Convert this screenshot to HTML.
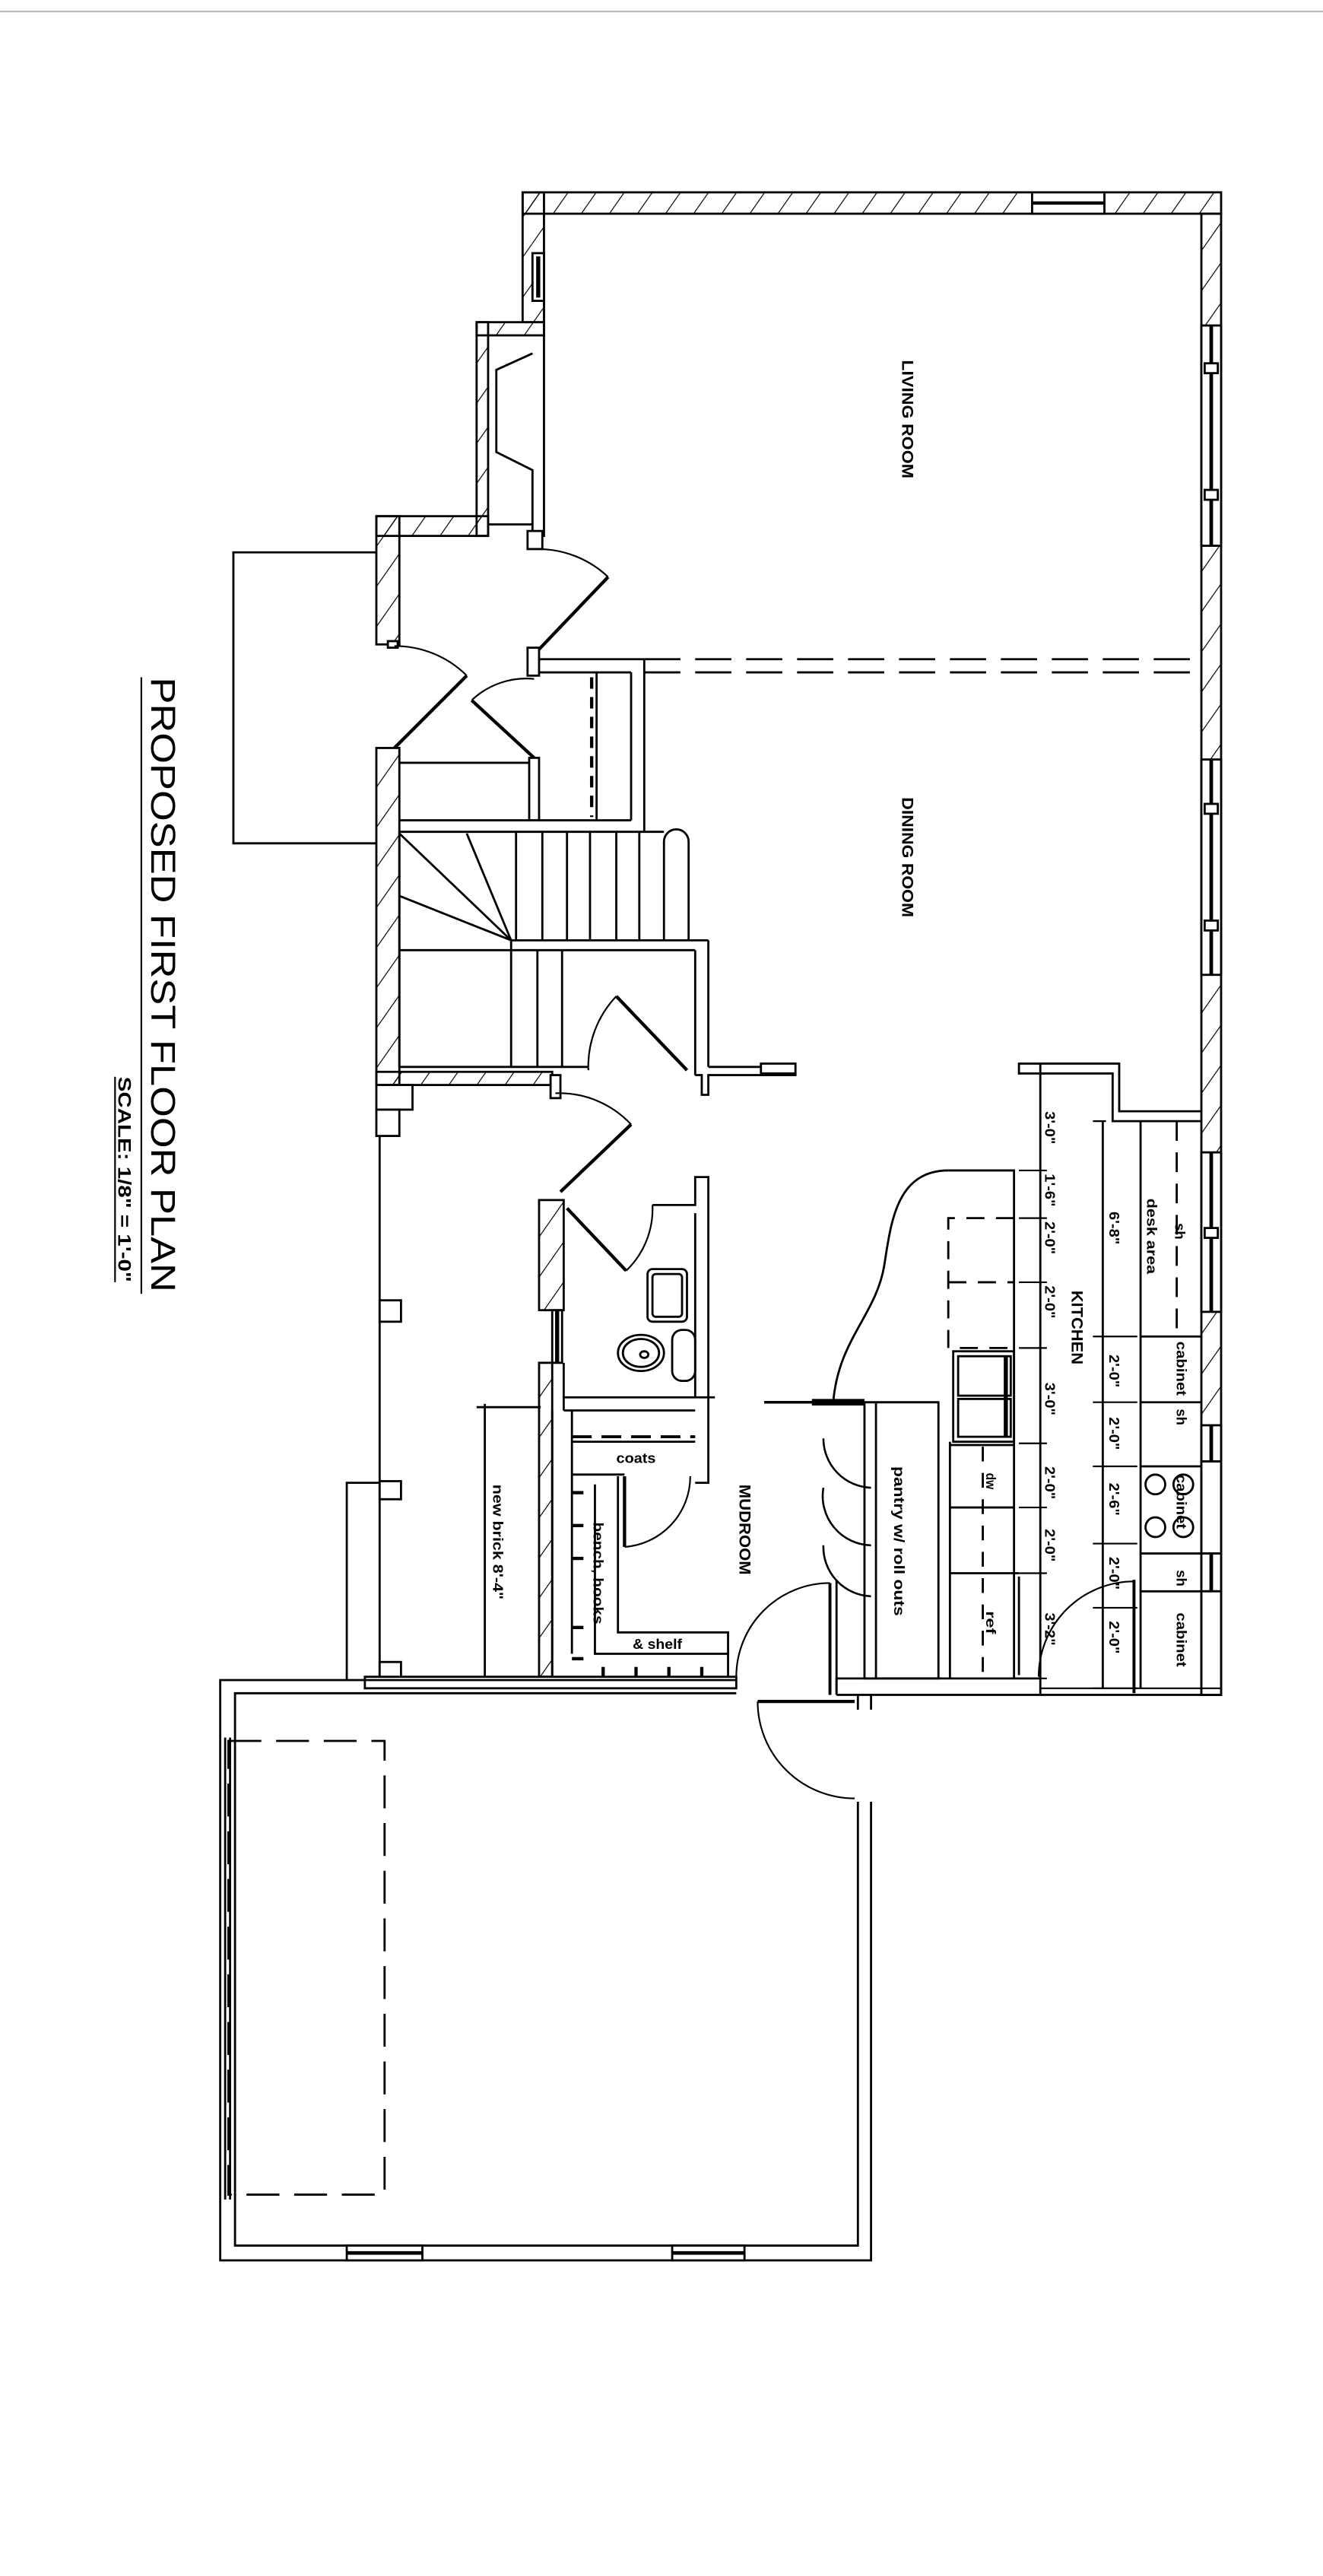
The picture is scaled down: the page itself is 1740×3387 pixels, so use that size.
<!DOCTYPE html>
<html><head><meta charset="utf-8"><style>
html,body{margin:0;padding:0;background:#fff}
svg{display:block}
text{font-family:"Liberation Sans",sans-serif;font-weight:bold;fill:#000}
</style></head><body>
<svg width="1740" height="3387" viewBox="0 0 805 1567" preserveAspectRatio="none" xmlns="http://www.w3.org/2000/svg">
<defs>
<pattern id="h" patternUnits="userSpaceOnUse" width="14" height="14" patternTransform="rotate(35)">
<line x1="0" y1="0" x2="0" y2="14" stroke="#000" stroke-width="1.1"/>
</pattern>
</defs>
<rect width="805" height="1567" fill="#fff"/>
<line x1="0" y1="7" x2="805" y2="7" stroke="#bbb" stroke-width="1"/>
<g stroke="#000" stroke-width="1.3" fill="none">
<!-- top wall -->
<rect x="318" y="117" width="425" height="13" fill="url(#h)"/>
<rect x="628" y="117" width="44" height="13" fill="#fff"/>
<line x1="628" y1="123.5" x2="672" y2="123.5" stroke-width="2"/>
<!-- right wall -->
<rect x="731" y="130" width="12" height="901" fill="url(#h)"/>
<rect x="731" y="198" width="12" height="134" fill="#fff"/><line x1="737" y1="198" x2="737" y2="332" stroke-width="2.2"/>
<rect x="733" y="221" width="8" height="6" fill="#fff"/><rect x="733" y="298" width="8" height="6" fill="#fff"/>
<rect x="731" y="462" width="12" height="131" fill="#fff"/><line x1="737" y1="462" x2="737" y2="593" stroke-width="2.2"/>
<rect x="733" y="489" width="8" height="6" fill="#fff"/><rect x="733" y="560" width="8" height="6" fill="#fff"/>
<rect x="731" y="701" width="12" height="97" fill="#fff"/><line x1="737" y1="701" x2="737" y2="798" stroke-width="2.2"/>
<rect x="733" y="747" width="8" height="6" fill="#fff"/>
<rect x="731" y="867" width="12" height="22" fill="#fff"/><line x1="737" y1="867" x2="737" y2="889" stroke-width="2.2"/>
<rect x="731" y="889" width="12" height="56" fill="#fff"/>
<rect x="731" y="945" width="12" height="23" fill="#fff"/><line x1="737" y1="945" x2="737" y2="968" stroke-width="2.2"/>
<rect x="731" y="968" width="12" height="63" fill="#fff"/>
<!-- living left wall & bay -->
<rect x="318" y="117" width="13" height="79" fill="url(#h)"/>
<rect x="324" y="154" width="7" height="29" fill="#fff"/><line x1="327.5" y1="156" x2="327.5" y2="181" stroke-width="2.5"/>
<rect x="290" y="196" width="7" height="130" fill="url(#h)"/>
<rect x="290" y="196" width="41" height="8" fill="url(#h)"/>
<polyline points="331,183 331,326 324,326 324,286 302,275 302,225 324,215"/>
<line x1="297" y1="319" x2="324" y2="319"/>
<rect x="229" y="314" width="68" height="12" fill="url(#h)"/>
<rect x="229" y="314" width="14" height="78" fill="url(#h)"/>
<rect x="321" y="323" width="9" height="11" fill="#fff"/>
<!-- porch -->
<polyline points="229,336 142,336 142,513 229,513"/>
<!-- entry doors -->
<rect x="236" y="390" width="6" height="4" fill="#fff"/>
<line x1="240" y1="455" x2="284" y2="411" stroke-width="2"/>
<path d="M240,393 A62,62 0 0 1 284,411" stroke-width="1"/>
<line x1="325" y1="461" x2="287" y2="426" stroke-width="2"/>
<path d="M325,413 A48,48 0 0 0 287,426" stroke-width="1"/>
<line x1="327" y1="396" x2="370" y2="351" stroke-width="2"/>
<path d="M327,334 A62,62 0 0 1 370,351" stroke-width="1"/>
<rect x="321" y="394" width="7" height="17" fill="#fff"/>
<!-- closet & divider -->
<line x1="328" y1="401" x2="392" y2="401"/>
<line x1="328" y1="409" x2="384" y2="409"/>
<line x1="384" y1="409" x2="384" y2="499"/><line x1="392" y1="401" x2="392" y2="506"/>
<line x1="363" y1="409" x2="363" y2="499"/>
<line x1="360" y1="412" x2="360" y2="497" stroke-dasharray="7,5" stroke-width="2"/>
<line x1="392" y1="401" x2="731" y2="401" stroke-dasharray="22,9"/>
<line x1="392" y1="409" x2="731" y2="409" stroke-dasharray="22,9"/>
<!-- hall -->
<rect x="229" y="455" width="14" height="205" fill="url(#h)"/>
<line x1="243" y1="464" x2="322" y2="464"/>
<rect x="322" y="461" width="6" height="38" fill="#fff"/>
<line x1="243" y1="499" x2="384" y2="499"/>
<!-- stairs -->
<polyline points="243,506 404,506"/>
<path d="M404,572 L404,512 A7.5,7.5 0 0 1 419,512 L419,572"/>
<line x1="314" y1="506" x2="314" y2="572"/><line x1="330" y1="506" x2="330" y2="572"/>
<line x1="345" y1="506" x2="345" y2="572"/><line x1="359" y1="506" x2="359" y2="572"/>
<line x1="375" y1="506" x2="375" y2="572"/><line x1="389" y1="506" x2="389" y2="572"/>
<line x1="311" y1="572" x2="431" y2="572"/>
<line x1="243" y1="578" x2="423" y2="578"/>
<line x1="311" y1="572" x2="243" y2="507"/><line x1="311" y1="572" x2="284" y2="507"/><line x1="311" y1="572" x2="243" y2="545"/>
<line x1="311" y1="572" x2="311" y2="649"/><line x1="327" y1="578" x2="327" y2="649"/><line x1="342" y1="578" x2="342" y2="649"/>
<line x1="243" y1="506" x2="243" y2="649"/>
<line x1="243" y1="649" x2="358" y2="649"/>
<line x1="423" y1="578" x2="423" y2="654"/><line x1="431" y1="572" x2="431" y2="649"/>
<polyline points="423,654 427,654 427,666 431,666 431,654 484,654 484,649 431,649"/>
<line x1="418" y1="651" x2="375" y2="606" stroke-width="2"/>
<path d="M375,606 A62,62 0 0 0 358,651" stroke-width="1"/>
<rect x="229" y="652" width="107" height="8" fill="url(#h)"/>
<rect x="335" y="654" width="6" height="14" fill="#fff"/>
<rect x="229" y="660" width="22" height="15" fill="#fff"/><rect x="229" y="675" width="14" height="16" fill="#fff"/>
<!-- dining -> hall door -->
<line x1="341" y1="725" x2="384" y2="684" stroke-width="2"/>
<path d="M338,665 A60,60 0 0 1 384,684" stroke-width="1"/>
<!-- left exterior line -->
<line x1="231" y1="691" x2="231" y2="1022"/>
<rect x="231" y="791" width="13" height="13" fill="#fff"/>
<rect x="231" y="901" width="13" height="11" fill="#fff"/>
<rect x="231" y="1011" width="13" height="11" fill="#fff"/>
<polyline points="231,902 211,902 211,1022"/>
<!-- bath -->
<rect x="328" y="730" width="15" height="67" fill="url(#h)"/>
<rect x="336" y="797" width="6" height="32" fill="#fff"/><line x1="339" y1="797" x2="339" y2="829" stroke-width="2.5"/>
<rect x="328" y="829" width="8" height="191" fill="url(#h)"/>
<line x1="343" y1="829" x2="343" y2="858"/>
<line x1="345" y1="735" x2="381" y2="773" stroke-width="2"/>
<path d="M381,773 A52,52 0 0 0 397,733" stroke-width="1"/>
<polyline points="397,733 423,733 423,716 431,716 431,902 423,902"/>
<line x1="423" y1="738" x2="423" y2="850"/>
<rect x="394" y="772" width="24" height="32" rx="3"/>
<rect x="397" y="775" width="18" height="26" rx="2"/>
<ellipse cx="390" cy="823" rx="14" ry="11"/><ellipse cx="390" cy="823" rx="11" ry="8.5"/>
<ellipse cx="392" cy="824" rx="2.5" ry="2"/>
<rect x="409" y="809" width="14" height="31" rx="6"/>
<line x1="343" y1="850" x2="435" y2="850"/><line x1="343" y1="858" x2="423" y2="858"/>
<!-- coats closet -->
<line x1="348" y1="858" x2="348" y2="1006"/><line x1="336" y1="858" x2="336" y2="1020"/>
<line x1="348" y1="874" x2="423" y2="874" stroke-dasharray="12,6" stroke-width="1.8"/>
<line x1="348" y1="877" x2="423" y2="877"/>
<line x1="348" y1="897" x2="380" y2="897"/>
<line x1="380" y1="898" x2="380" y2="941" stroke-width="2"/>
<path d="M380,941 A43,43 0 0 0 420,898" stroke-width="1"/>
<!-- bench -->
<polyline points="376,898 376,993 443,993 443,1020"/>
<polyline points="362,903 362,1006 443,1006"/>
<g stroke-width="2">
<line x1="348" y1="908" x2="355" y2="908"/><line x1="348" y1="928" x2="355" y2="928"/><line x1="348" y1="948" x2="355" y2="948"/>
<line x1="348" y1="990" x2="355" y2="990"/><line x1="348" y1="1009" x2="355" y2="1009"/>
<line x1="367" y1="1014" x2="367" y2="1020"/><line x1="387" y1="1014" x2="387" y2="1020"/>
<line x1="407" y1="1014" x2="407" y2="1020"/><line x1="427" y1="1014" x2="427" y2="1020"/>
</g>
<!-- new brick dimension -->
<line x1="295" y1="854" x2="295" y2="1025"/><line x1="290" y1="856" x2="329" y2="856"/>
<!-- mudroom bottom wall -->
<rect x="222" y="1020" width="226" height="7" fill="#fff"/>
<path d="M448,1020 A57,57 0 0 1 505,963" stroke-width="1"/>
<line x1="505" y1="963" x2="505" y2="1031" stroke-width="1.8"/><line x1="509" y1="961" x2="509" y2="1031"/>
<!-- garage -->
<polyline points="448,1022 134,1022 134,1375 530,1375 530,1096"/>
<polyline points="448,1030 143,1030 143,1366 522,1366 522,1096"/>
<line x1="522" y1="1031" x2="522" y2="1040"/><line x1="530" y1="1031" x2="530" y2="1040"/>
<line x1="137" y1="1057" x2="137" y2="1338"/><line x1="140" y1="1057" x2="140" y2="1338"/>
<rect x="139" y="1059" width="95" height="276" stroke-dasharray="20,9"/>
<rect x="211" y="1366" width="46" height="9" fill="#fff"/><line x1="211" y1="1370.5" x2="257" y2="1370.5" stroke-width="2.2"/>
<rect x="409" y="1366" width="44" height="9" fill="#fff"/><line x1="409" y1="1370.5" x2="453" y2="1370.5" stroke-width="2.2"/>
<line x1="461" y1="1035" x2="520" y2="1035" stroke-width="2"/>
<path d="M461,1035 A59,59 0 0 0 520,1094" stroke-width="1"/>
<!-- kitchen walls -->
<rect x="463" y="647" width="21" height="6" fill="#fff"/>
<rect x="620" y="647" width="13" height="6" fill="#fff"/>
<polyline points="633,647 681,647 681,676 731,676"/>
<polyline points="633,653 677,653 677,682 731,682"/>
<line x1="633" y1="653" x2="633" y2="1031"/>
<line x1="671" y1="682" x2="671" y2="1027"/>
<line x1="694" y1="682" x2="694" y2="1027"/>
<line x1="716" y1="682" x2="716" y2="813" stroke-dasharray="12,7"/>
<line x1="694" y1="813" x2="731" y2="813"/><line x1="694" y1="853" x2="731" y2="853"/>
<line x1="694" y1="892" x2="731" y2="892"/><line x1="694" y1="945" x2="731" y2="945"/>
<line x1="694" y1="968" x2="731" y2="968"/>
<g stroke-width="1">
<line x1="620" y1="712" x2="637" y2="712"/><line x1="620" y1="741" x2="637" y2="741"/>
<line x1="620" y1="780" x2="637" y2="780"/><line x1="620" y1="820" x2="637" y2="820"/>
<line x1="620" y1="878" x2="637" y2="878"/><line x1="620" y1="917" x2="637" y2="917"/>
<line x1="620" y1="957" x2="637" y2="957"/><line x1="620" y1="1021" x2="637" y2="1021"/>
<line x1="665" y1="682" x2="673" y2="682"/>
<line x1="665" y1="813" x2="692" y2="813"/><line x1="665" y1="853" x2="692" y2="853"/>
<line x1="665" y1="892" x2="692" y2="892"/><line x1="665" y1="939" x2="692" y2="939"/>
<line x1="665" y1="978" x2="692" y2="978"/><line x1="665" y1="1027" x2="692" y2="1027"/>
</g>
<!-- peninsula -->
<polyline points="577,712 617,712 617,1021"/>
<path d="M577,712 C545,712 542,745 538,770 C533,800 510,815 507,853"/>
<g stroke-dasharray="11,7">
<polyline points="617,741 577,741 577,820 617,820"/>
<line x1="577" y1="780" x2="617" y2="780"/>
</g>
<rect x="580" y="822" width="37" height="55"/>
<rect x="583" y="825" width="32" height="24"/><rect x="583" y="851" width="32" height="23"/>
<line x1="612" y1="825" x2="612" y2="874" stroke-width="2.5"/>
<line x1="578" y1="877" x2="578" y2="1021"/>
<line x1="598" y1="880" x2="598" y2="1019" stroke-dasharray="9,7"/>
<line x1="578" y1="879" x2="617" y2="879"/><line x1="578" y1="917" x2="617" y2="917"/><line x1="578" y1="957" x2="620" y2="957"/>
<line x1="620" y1="959" x2="620" y2="1019"/>
<line x1="465" y1="853" x2="526" y2="853" stroke-width="1.6"/>
<line x1="494" y1="853" x2="526" y2="853" stroke-width="4"/>
<line x1="526" y1="853" x2="571" y2="853"/>
<rect x="526" y="853" width="45" height="168"/>
<line x1="533" y1="853" x2="533" y2="1021"/>
<path d="M501,875 A30,30 0 0 0 530,905" stroke-width="1.2"/>
<path d="M501,905 A30,30 0 0 0 530,940" stroke-width="1.2"/>
<path d="M501,940 A30,30 0 0 0 530,971" stroke-width="1.2"/>
<polyline points="509,1031 509,1021 633,1021"/>
<line x1="509" y1="1031" x2="743" y2="1031"/>
<line x1="633" y1="1027" x2="743" y2="1027" stroke-width="1"/>
<line x1="690" y1="961" x2="690" y2="1030" stroke-width="1.8"/>
<path d="M632,1020 A58,58 0 0 1 690,962" stroke-width="1"/>
<circle cx="703" cy="903" r="6"/><circle cx="703" cy="929" r="6"/>
<circle cx="720" cy="903" r="6"/><circle cx="720" cy="929" r="6"/>
<!-- title underlines -->
<line x1="86" y1="412" x2="86" y2="787" stroke-width="1"/>
<line x1="70" y1="655" x2="70" y2="780" stroke-width="1"/>
</g>
<!-- labels (rotated 90) -->
<g>
<text transform="translate(92,412) rotate(90)" font-size="21" style="font-weight:normal" textLength="374" lengthAdjust="spacingAndGlyphs">PROPOSED FIRST FLOOR PLAN</text>
<text transform="translate(72,655) rotate(90)" font-size="11" textLength="125" lengthAdjust="spacingAndGlyphs">SCALE: 1/8" = 1'-0"</text>
<text transform="translate(549,219) rotate(90)" font-size="10" textLength="72" lengthAdjust="spacingAndGlyphs">LIVING ROOM</text>
<text transform="translate(549,485) rotate(90)" font-size="10" textLength="73" lengthAdjust="spacingAndGlyphs">DINING ROOM</text>
<text transform="translate(652,785) rotate(90)" font-size="10" textLength="45" lengthAdjust="spacingAndGlyphs">KITCHEN</text>
<text transform="translate(450,903) rotate(90)" font-size="10" textLength="55" lengthAdjust="spacingAndGlyphs">MUDROOM</text>
<text transform="translate(544,892) rotate(90)" font-size="9" textLength="91" lengthAdjust="spacingAndGlyphs">pantry w/ roll outs</text>
<text transform="translate(300,903) rotate(90)" font-size="8.5" textLength="70" lengthAdjust="spacingAndGlyphs">new brick 8'-4"</text>
<text transform="translate(361,926) rotate(90)" font-size="8.5" textLength="62" lengthAdjust="spacingAndGlyphs">bench, hooks</text>
<text transform="translate(600,896) rotate(90)" font-size="8" textLength="10" lengthAdjust="spacingAndGlyphs">dw</text>
<text transform="translate(600,980) rotate(90)" font-size="8" textLength="14" lengthAdjust="spacingAndGlyphs">ref</text>
<g font-size="8.5">
<text transform="translate(636,676) rotate(90)" textLength="20" lengthAdjust="spacingAndGlyphs">3'-0"</text>
<text transform="translate(636,714) rotate(90)" textLength="20" lengthAdjust="spacingAndGlyphs">1'-6"</text>
<text transform="translate(636,743) rotate(90)" textLength="20" lengthAdjust="spacingAndGlyphs">2'-0"</text>
<text transform="translate(636,782) rotate(90)" textLength="20" lengthAdjust="spacingAndGlyphs">2'-0"</text>
<text transform="translate(636,841) rotate(90)" textLength="20" lengthAdjust="spacingAndGlyphs">3'-0"</text>
<text transform="translate(636,892) rotate(90)" textLength="20" lengthAdjust="spacingAndGlyphs">2'-0"</text>
<text transform="translate(636,930) rotate(90)" textLength="20" lengthAdjust="spacingAndGlyphs">2'-0"</text>
<text transform="translate(636,981) rotate(90)" textLength="20" lengthAdjust="spacingAndGlyphs">3'-2"</text>
<text transform="translate(675,737) rotate(90)" textLength="20" lengthAdjust="spacingAndGlyphs">6'-8"</text>
<text transform="translate(675,824) rotate(90)" textLength="20" lengthAdjust="spacingAndGlyphs">2'-0"</text>
<text transform="translate(675,862) rotate(90)" textLength="20" lengthAdjust="spacingAndGlyphs">2'-0"</text>
<text transform="translate(675,902) rotate(90)" textLength="20" lengthAdjust="spacingAndGlyphs">2'-6"</text>
<text transform="translate(675,947) rotate(90)" textLength="20" lengthAdjust="spacingAndGlyphs">2'-0"</text>
<text transform="translate(675,986) rotate(90)" textLength="20" lengthAdjust="spacingAndGlyphs">2'-0"</text>
<text transform="translate(698,729) rotate(90)" textLength="46" lengthAdjust="spacingAndGlyphs">desk area</text>
<text transform="translate(715,744) rotate(90)" textLength="10" lengthAdjust="spacingAndGlyphs">sh</text>
<text transform="translate(716,816) rotate(90)" textLength="33" lengthAdjust="spacingAndGlyphs">cabinet</text>
<text transform="translate(716,857) rotate(90)" textLength="10" lengthAdjust="spacingAndGlyphs">sh</text>
<text transform="translate(716,897) rotate(90)" textLength="33" lengthAdjust="spacingAndGlyphs">cabinet</text>
<text transform="translate(716,955) rotate(90)" textLength="10" lengthAdjust="spacingAndGlyphs">sh</text>
<text transform="translate(716,981) rotate(90)" textLength="33" lengthAdjust="spacingAndGlyphs">cabinet</text>
</g>
<text x="375" y="890" font-size="8.5" textLength="24" lengthAdjust="spacingAndGlyphs">coats</text>
<text x="385" y="1003" font-size="8.5" textLength="30" lengthAdjust="spacingAndGlyphs">&amp; shelf</text>
</g>
</svg>
</body></html>
